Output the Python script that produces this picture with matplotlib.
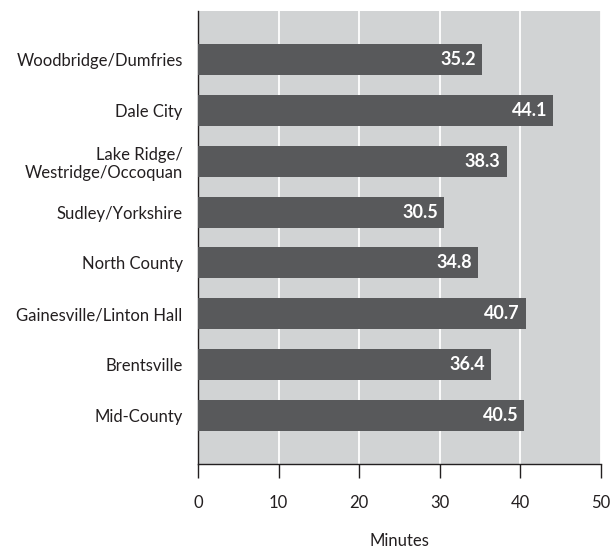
import matplotlib
matplotlib.use('Agg')
import matplotlib.pyplot as plt
import numpy as np

# Average commute time by area (minutes)
areas = ['Woodbridge/Dumfries', 'Dale City', 'Lake Ridge/\nWestridge/Occoquan',
         'Sudley/Yorkshire', 'North County', 'Gainesville/Linton Hall',
         'Brentsville', 'Mid-County']
minutes = [35.2, 44.1, 38.3, 30.5, 34.8, 40.7, 36.4, 40.5]
xticks = [0, 10, 20, 30, 40, 50]

plt.rcParams['font.family'] = ['Lato', 'DejaVu Sans']

fig = plt.figure(figsize=(6.11, 5.49), dpi=100)
ax = fig.add_axes([198 / 611, 1 - 464 / 549, 403 / 611, 453 / 549])
ax.set_facecolor('#d1d3d4')

y = np.arange(len(areas))
ax.barh(y, minutes, height=0.61, color='#58595b', zorder=3)

for yi, v in zip(y, minutes):
    ax.text(v - 0.75, yi, f"{v:.1f}", ha='right', va='center',
            color='white', fontsize=13, fontweight='bold', zorder=4)

ax.set_xlim(0, 50)
ax.set_ylim(len(areas) - 1 + 0.954, -0.954)
ax.set_xticks(xticks)
ax.set_yticks(y)
ax.set_yticklabels(areas)
ax.grid(axis='x', color='white', linewidth=1.3, zorder=1)
ax.set_axisbelow(True)

for s in ['top', 'right']:
    ax.spines[s].set_visible(False)
ax.spines['left'].set_color('#231f20')
ax.spines['left'].set_linewidth(1.0)
ax.spines['bottom'].set_color('#231f20')
ax.spines['bottom'].set_linewidth(1.0)

ax.tick_params(axis='y', length=0, pad=11, labelsize=12, labelcolor='#231f20')
ax.tick_params(axis='x', direction='out', length=10, width=1.0, color='#231f20',
               pad=12, labelsize=12, labelcolor='#231f20')

# x-axis title, placed just below the tick labels
fig.text(ax.get_position().x0 + ax.get_position().width / 2, 1 - 541 / 549,
         'Minutes', ha='center', va='center', fontsize=12, color='#231f20')

plt.savefig('out.png', dpi=100, facecolor='white')
